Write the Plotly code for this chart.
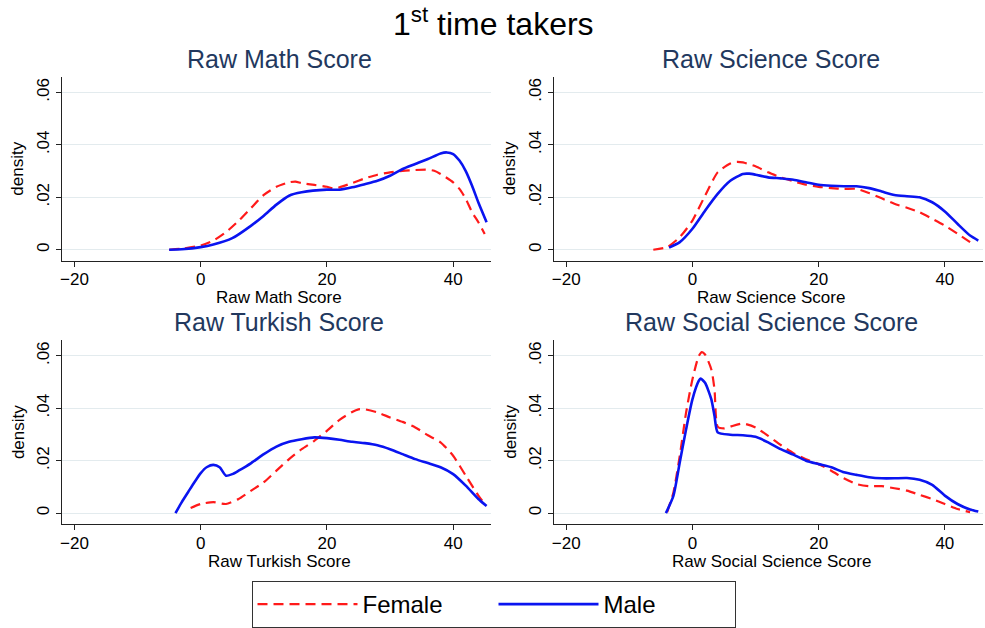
import plotly.graph_objects as go

# Kernel density estimates of raw scores, first-time takers, by gender
math_f_x = [-5, -3, 0, 2, 4, 6, 8, 10, 12, 14, 15, 16, 18, 20, 21, 22, 24, 26, 28, 30, 32, 34, 36, 37, 38, 40, 41, 42, 43, 44, 45]
math_f_y = [0.0, 0.0004, 0.0016, 0.0035, 0.0067, 0.011, 0.016, 0.0209, 0.024, 0.0257, 0.026, 0.0254, 0.0247, 0.024, 0.0234, 0.0238, 0.0254, 0.0272, 0.0286, 0.0295, 0.0301, 0.0304, 0.0305, 0.0301, 0.0289, 0.0257, 0.0232, 0.0194, 0.0143, 0.0105, 0.006]
math_m_x = [-5, -3, 0, 2, 5, 8, 10, 12, 14, 16, 20, 22, 24, 26, 28, 30, 32, 34, 36, 38, 39, 40, 41, 42, 43, 44, 45.3]
math_m_y = [0.0, 0.0002, 0.001, 0.002, 0.0044, 0.0092, 0.013, 0.0172, 0.0206, 0.0219, 0.0229, 0.0229, 0.0238, 0.025, 0.0263, 0.0282, 0.0308, 0.0327, 0.0346, 0.0367, 0.0371, 0.0365, 0.034, 0.030, 0.0244, 0.018, 0.0105]

sci_f_x = [-6.2, -4, -2, 0, 2, 4, 6, 7, 8, 10, 12, 14, 16, 18, 20, 22, 24, 26, 28, 30, 32, 34, 36, 38, 40, 42, 44]
sci_f_y = [0.0, 0.001, 0.0048, 0.0111, 0.0206, 0.0295, 0.0329, 0.0335, 0.0333, 0.0318, 0.0295, 0.0276, 0.0261, 0.0248, 0.024, 0.0235, 0.0232, 0.0232, 0.0216, 0.0196, 0.0175, 0.016, 0.0143, 0.0118, 0.0092, 0.0061, 0.0029]
sci_m_x = [-3.7, -2, 0, 2, 4, 6, 8, 9, 10, 12, 14, 16, 18, 20, 22, 24, 26, 28, 30, 32, 34, 36, 38, 40, 42, 44, 45.3]
sci_m_y = [0.0008, 0.0029, 0.008, 0.0149, 0.0213, 0.0263, 0.0289, 0.029, 0.0286, 0.0276, 0.0272, 0.0267, 0.0257, 0.0248, 0.0244, 0.0242, 0.0242, 0.0235, 0.0222, 0.0209, 0.0204, 0.020, 0.0181, 0.0146, 0.0099, 0.0054, 0.0035]

tur_f_x = [-1.6, 0, 2, 4, 6, 8, 10, 12, 14, 16, 18, 20, 22, 24, 25, 26, 28, 30, 32, 34, 36, 38, 40, 42, 44, 45]
tur_f_y = [0.002, 0.0035, 0.0042, 0.0035, 0.0054, 0.0086, 0.0118, 0.0162, 0.0206, 0.0244, 0.0276, 0.0314, 0.0356, 0.0386, 0.0396, 0.0396, 0.0384, 0.0365, 0.0348, 0.0327, 0.0297, 0.027, 0.0219, 0.0143, 0.0067, 0.0035]
tur_m_x = [-4, -3, -2, -1, 0, 1, 2, 3, 4, 5, 6, 8, 10, 12, 14, 16, 18, 20, 22, 24, 26, 28, 30, 32, 34, 36, 38, 40, 42, 44, 45.3]
tur_m_y = [0.0, 0.0042, 0.008, 0.0118, 0.0153, 0.0176, 0.0184, 0.0175, 0.0143, 0.0149, 0.0162, 0.0191, 0.0225, 0.0254, 0.0272, 0.0282, 0.0289, 0.0286, 0.028, 0.0272, 0.0267, 0.0259, 0.0244, 0.0225, 0.0206, 0.0191, 0.0175, 0.0149, 0.0105, 0.0054, 0.0027]

soc_f_x = [-4, -3, -2, -1, 0, 1, 1.5, 2, 3, 3.5, 4, 5, 6, 8, 10, 12, 14, 16, 18, 20, 22, 24, 26, 28, 30, 32, 34, 36, 38, 40, 42, 44]
soc_f_y = [0.0004, 0.008, 0.0219, 0.0384, 0.051, 0.0599, 0.0614, 0.0605, 0.0548, 0.0472, 0.033, 0.0323, 0.033, 0.0342, 0.0327, 0.0295, 0.026, 0.0229, 0.0206, 0.0187, 0.0162, 0.0133, 0.0111, 0.0103, 0.0103, 0.0095, 0.0086, 0.007, 0.0054, 0.0035, 0.0016, 0.0004]
soc_m_x = [-4.2, -3, -2, -1, 0, 1, 1.3, 2, 3, 3.5, 4, 6, 8, 10, 12, 14, 16, 18, 20, 22, 24, 26, 28, 30, 32, 34, 36, 38, 40, 42, 44, 45.3]
soc_m_y = [0.0, 0.0067, 0.0194, 0.032, 0.0434, 0.0504, 0.0513, 0.0497, 0.0434, 0.0371, 0.0308, 0.0299, 0.0297, 0.0291, 0.027, 0.0244, 0.0223, 0.020, 0.0187, 0.0175, 0.0156, 0.0146, 0.0137, 0.0133, 0.0133, 0.0134, 0.0127, 0.0108, 0.0067, 0.0035, 0.0014, 0.0006]

panel_titles = ["Raw Math Score", "Raw Science Score", "Raw Turkish Score", "Raw Social Science Score"]
x_tick_vals = [-20, 0, 20, 40]
x_tick_text = ["\u221220", "0", "20", "40"]
y_tick_vals = [0, 0.02, 0.04, 0.06]
y_tick_text = ["0", ".02", ".04", ".06"]

panels = [
    (math_f_x, math_f_y, math_m_x, math_m_y),
    (sci_f_x, sci_f_y, sci_m_x, sci_m_y),
    (tur_f_x, tur_f_y, tur_m_x, tur_m_y),
    (soc_f_x, soc_f_y, soc_m_x, soc_m_y),
]

W, H = 985, 628
FONT = "Liberation Sans, Arial, sans-serif"
TITLE_COLOR = "#22385e"
RED = "#ff1a1a"
BLUE = "#0a14f0"

# panel plot areas in pixels: (left, right, top, bottom)
boxes = [
    (60, 490, 77, 262),
    (552.7, 982.7, 77, 262),
    (60, 490, 341.7, 526.7),
    (552.7, 982.7, 341.7, 526.7),
]

fig = go.Figure()
annotations = []
layout_axes = {}

for i, ((fx, fy, mx, my), title, box) in enumerate(zip(panels, panel_titles, boxes)):
    n = "" if i == 0 else str(i + 1)
    xa, ya = "x" + n, "y" + n
    fig.add_trace(go.Scatter(
        x=fx, y=fy, xaxis=xa, yaxis=ya, mode="lines", name="Female",
        line=dict(color=RED, width=2.2, dash="10px,6px", shape="spline", smoothing=0.6),
        showlegend=(i == 0), legendrank=1,
    ))
    fig.add_trace(go.Scatter(
        x=mx, y=my, xaxis=xa, yaxis=ya, mode="lines", name="Male",
        line=dict(color=BLUE, width=2.6, shape="spline", smoothing=0.6),
        showlegend=(i == 0), legendrank=2,
    ))
    l, r, t, b = box
    layout_axes["xaxis" + n] = dict(
        domain=[l / W, r / W], range=[-22, 46], anchor=ya,
        tickvals=x_tick_vals, ticktext=x_tick_text, ticks="outside", ticklen=5,
        tickcolor="#222", showline=True, linecolor="#222", linewidth=1,
        showgrid=False, zeroline=False, tickfont=dict(size=17, color="#000"),
        ticklabelstandoff=-2,
    )
    layout_axes["yaxis" + n] = dict(
        domain=[1 - b / H, 1 - t / H], range=[-0.0042, 0.066], anchor=xa,
        tickvals=y_tick_vals, ticktext=y_tick_text, ticks="outside", ticklen=5,
        tickcolor="#222", showline=True, linecolor="#222", linewidth=1,
        showgrid=True, gridcolor="#e3ebee", gridwidth=1, zeroline=False,
        tickangle=-90, tickfont=dict(size=17, color="#000"),
    )
    cx = (l + r) / 2 + 3
    annotations.append(dict(
        text=title, x=cx / W, y=1 - (t - 18) / H, xref="paper", yref="paper",
        showarrow=False, font=dict(size=25, color=TITLE_COLOR, family=FONT),
        xanchor="center", yanchor="middle",
    ))
    annotations.append(dict(
        text=title, x=cx / W, y=1 - (b + 37) / H, xref="paper", yref="paper",
        showarrow=False, font=dict(size=17, color="#000", family=FONT),
        xanchor="center", yanchor="middle",
    ))
    annotations.append(dict(
        text="density", x=(l - 44) / W, y=1 - ((t + b) / 2) / H,
        xref="paper", yref="paper", showarrow=False, textangle=-90,
        font=dict(size=17, color="#000", family=FONT),
        xanchor="center", yanchor="middle",
    ))

annotations.append(dict(
    text="1<sup>st</sup> time takers", x=0.5, y=1 - 22 / H, xref="paper", yref="paper",
    showarrow=False, font=dict(size=32, color="#000", family=FONT),
    xanchor="center", yanchor="middle",
))

fig.update_layout(
    width=W, height=H,
    margin=dict(l=0, r=0, t=0, b=0),
    paper_bgcolor="white", plot_bgcolor="white",
    font=dict(family=FONT, color="#000"),
    annotations=annotations,
    legend=dict(
        orientation="h", x=0.5, xanchor="center", y=1 - 584 / H, yanchor="top",
        bordercolor="#333", borderwidth=1, bgcolor="white",
        font=dict(size=24, color="#000", family=FONT),
        itemwidth=100, entrywidth=126, traceorder="normal",
    ),
    **layout_axes,
)

fig.write_html("out.html")
